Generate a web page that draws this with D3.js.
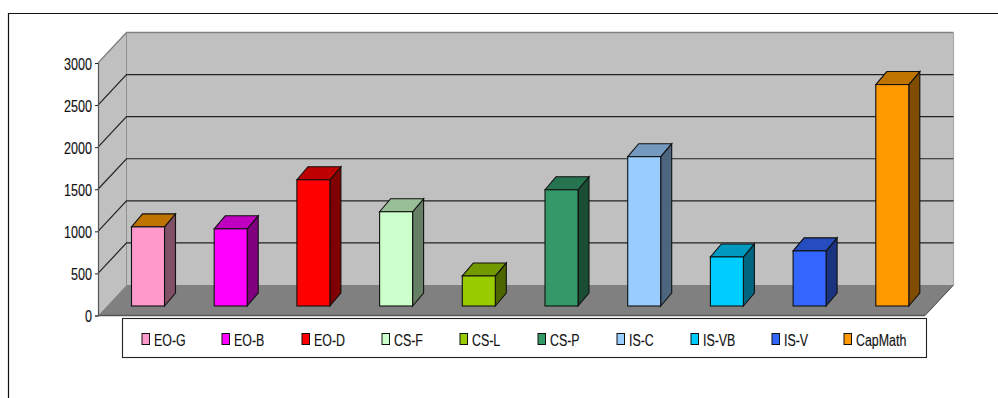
<!DOCTYPE html>
<html><head><meta charset="utf-8">
<script src="https://cdn.jsdelivr.net/npm/d3@7"></script>
<style>html,body{margin:0;padding:0;background:#fff;overflow:hidden}svg{display:block}text{font-family:"Liberation Sans",Arial,sans-serif;fill:#111;stroke:#111;stroke-width:0.15}</style>
</head><body><svg id="c" width="998" height="398"></svg>
<script>
const categories=["EO-G","EO-B","EO-D","CS-F","CS-L","CS-P","IS-C","IS-VB","IS-V","CapMath"];
const values=[940,917,1500,1120,357,1381,1774,583,655,2631];
const frontColors=["#ff99cc","#ff00ff","#ff0000","#ccffcc","#99cc00","#339966","#99ccff","#00ccff","#3366ff","#ff9900"];
const topColors=["#bf7300","#bf00bf","#bf0000","#99bf99","#739900","#267350","#7399bf","#0099bf","#264dbf","#bf7300"];
const sideColors=["#805066","#800080","#800000","#668066","#4d6600","#1a4d33","#4d6680","#006680","#1a3380","#804d00"];
const yTicks=[0,500,1000,1500,2000,2500,3000];
const legendSwatchX=[142,222,302,382,460,538,617,691,772,844];

const svg=d3.select("#c");
const depth={x:28.5,y:-30.5}, barDepth={x:11,y:-13};
const y=d3.scaleLinear().domain([0,3000]).range([315.5,63]);
const x=d3.scaleBand().domain(categories).range([98,925]).paddingInner(0.6).paddingOuter(0.3);
const poly=(pts,fill,stroke,sw)=>svg.append("polygon").attr("points",pts.map(p=>p.join(",")).join(" ")).attr("fill",fill).attr("stroke",stroke).attr("stroke-width",sw).attr("stroke-linejoin","miter");

svg.append("path").attr("d","M8.5,398V13.5H998").attr("fill","none").attr("stroke","#111").attr("stroke-width",1.2);

const x0=98,x1=925,yb=y(0),yt=y(3000);
poly([[x0+depth.x,yt+depth.y],[x1+depth.x,yt+depth.y],[x1+depth.x,yb+depth.y],[x0+depth.x,yb+depth.y]],"#c0c0c0","none",0);
poly([[x0,yt],[x0+depth.x,yt+depth.y],[x0+depth.x,yb+depth.y],[x0,yb]],"#c0c0c0","none",0);
poly([[x0,yb],[x0+depth.x,yb+depth.y],[x1+depth.x,yb+depth.y],[x1,yb]],"#808080","none",0);
svg.append("path").attr("d",`M${x0},${yt}L${x0+depth.x},${yt+depth.y}H${x1+depth.x}`).attr("fill","none").attr("stroke","#808080").attr("stroke-width",1.3);
svg.append("path").attr("d",`M${x1+depth.x},${yt+depth.y}V${yb+depth.y}`).attr("stroke","#aaa").attr("stroke-width",1.2);
svg.append("path").attr("d",`M${x0+depth.x},${yt+depth.y}V${yb+depth.y}`).attr("stroke","#909090").attr("stroke-width",1);
svg.append("path").attr("d",`M${x1},${yb}L${x1+depth.x},${yb+depth.y}`).attr("stroke","#333").attr("stroke-width",0.9);
svg.append("line").attr("x1",x0).attr("x2",x1).attr("y1",yb).attr("y2",yb).attr("stroke","#555").attr("stroke-width",1.5);

yTicks.slice(1,-1).forEach(t=>{
  svg.append("path").attr("d",`M${x0},${y(t)}L${x0+depth.x},${y(t)+depth.y}H${x1+depth.x}`).attr("fill","none").attr("stroke","#222").attr("stroke-width",1.2);
});

const axis=d3.axisLeft(y).tickValues(yTicks).tickSize(3).tickPadding(2).tickFormat(d3.format("d"));
const ga=svg.append("g").attr("transform",`translate(${x0},0)`).call(axis);
ga.select(".domain").attr("stroke","#555").attr("stroke-width",1.2);
ga.selectAll(".tick line").attr("stroke","#222");
ga.selectAll(".tick text").attr("font-size",null).style("font-size","17px").attr("x",0).attr("dy",null).attr("text-anchor","end")
  .attr("transform","translate(-6,6) scale(0.74,1)");

const bw=33;
categories.forEach((c,i)=>{
  const bx=148-bw/2+i*x.step(), base=306, top=base-(y(0)-y(values[i])), d=barDepth;
  poly([[bx+bw,base],[bx+bw+d.x,base+d.y],[bx+bw+d.x,top+d.y],[bx+bw,top]],sideColors[i],"#111",1.1);
  poly([[bx,top],[bx+d.x,top+d.y],[bx+bw+d.x,top+d.y],[bx+bw,top]],topColors[i],"#111",1.1);
  svg.append("rect").attr("x",bx).attr("y",top).attr("width",bw).attr("height",base-top).attr("fill",frontColors[i]).attr("stroke","#111").attr("stroke-width",1.1);
});

svg.append("rect").attr("x",122.5).attr("y",318.5).attr("width",804).attr("height",39).attr("fill","#fff").attr("stroke","#222").attr("stroke-width",1.1);
categories.forEach((c,i)=>{
  svg.append("rect").attr("x",legendSwatchX[i]).attr("y",333.5).attr("width",7.5).attr("height",11).attr("fill",frontColors[i]).attr("stroke","#111").attr("stroke-width",1);
  svg.append("text").attr("transform",`translate(${legendSwatchX[i]+12},345.5) scale(0.73,1)`).style("font-size","17px").text(c);
});
</script></body></html>
